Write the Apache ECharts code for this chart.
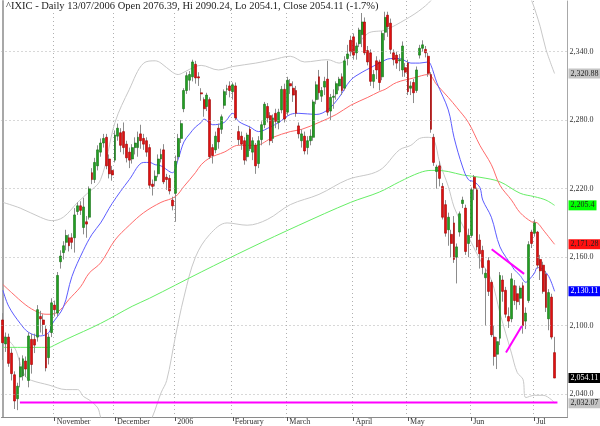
<!DOCTYPE html>
<html><head><meta charset="utf-8">
<script src="https://cdn.jsdelivr.net/npm/echarts@6/dist/echarts.min.js"></script>
<style>html,body{margin:0;padding:0;background:#fff}#c{width:600px;height:426px}</style>
</head><body><div id="c"></div>
<script>
// ---- daily OHLC, ^IXIC, 6 Oct 2005 .. 13 Jul 2006 (index 0 = 6 Oct 2005) ----
const openP = [2105,2084,2090,2076,2057,2036,2055,2056,2069,2052,2088,2088,2090,2108,2105,2097,2072,2094,2118,2111,
2156,2164,2173,2177,2177,2177,2200,2205,2186,2191,2195,2234,2228,2240,2252,2260,2265,2246,2236,2245,
2266,2269,2270,2259,2252,2246,2256,2256,2268,2264,2262,2256,2224,2227,2233,2246,2254,2230,2229,2210,
2216,2248,2264,2290,2306,2315,2318,2329,2318,2304,2298,2292,2298,2256,2254,2273,2272,2293,2307,2310,
2305,2310,2270,2266,2262,2248,2272,2252,2258,2242,2263,2276,2292,2284,2264,2286,2278,2289,2307,2287,
2312,2308,2306,2275,2262,2266,2256,2262,2265,2298,2318,2301,2309,2316,2288,2300,2303,2310,2318,2308,
2334,2350,2353,2339,2347,2355,2366,2341,2339,2314,2332,2331,2318,2357,2372,2365,2339,2337,2332,2324,
2326,2330,2308,2313,2306,2337,2343,2342,2336,2320,2265,2235,2240,2222,2206,2184,2180,2190,2160,2182,
2207,2203,2172,2179,2230,2219,2175,2166,2142,2157,2138,2090,2075,2089,2140,2131,2108,2106,2135,2128,
2124,2135,2104,2122,2182,2181,2182,2158,2153,2145,2106,2125,2076.39];
const highP = [2111,2094,2093,2080,2060,2050,2072,2074,2073,2094,2093,2093,2118,2113,2110,2100,2093,2124,2122,2147,
2166,2174,2184,2180,2181,2203,2208,2209,2212,2196,2222,2238,2247,2258,2264,2268,2268,2250,2240,2271,
2277,2273,2278,2262,2256,2259,2265,2270,2276,2268,2265,2259,2228,2236,2250,2255,2259,2233,2232,2213,
2249,2268,2280,2308,2322,2323,2333,2332,2322,2308,2300,2304,2300,2259,2270,2277,2285,2307,2311,2314,
2313,2313,2275,2270,2265,2269,2275,2265,2260,2266,2279,2296,2295,2287,2285,2290,2290,2310,2312,2318,
2316,2314,2310,2278,2272,2270,2266,2272,2298,2314,2324,2309,2318,2332,2303,2307,2314,2318,2321,2336,
2346,2354,2356,2348,2361,2376,2370,2345,2342,2324,2336,2333,2358,2375,2375,2369,2342,2340,2338,2349,
2330,2333,2314,2316,2327,2346,2350,2345,2339,2322,2268,2241,2244,2225,2210,2199,2184,2196,2172,2200,
2213,2206,2185,2221,2232,2221,2180,2170,2150,2160,2140,2100,2090,2147,2144,2134,2116,2146,2140,2135,
2135,2138,2116,2174,2184,2193,2183,2162,2156,2148,2132,2128,2090.24];
const lowP = [2070,2077,2064,2052,2027,2026,2046,2052,2055,2046,2058,2076,2086,2094,2092,2060,2066,2090,2108,2108,
2150,2158,2166,2165,2167,2164,2197,2197,2180,2177,2193,2224,2225,2236,2248,2256,2237,2229,2227,2243,
2262,2252,2250,2243,2238,2242,2250,2248,2255,2254,2248,2220,2214,2222,2230,2243,2224,2219,2215,2201,
2191,2244,2260,2287,2303,2306,2314,2312,2310,2297,2283,2288,2246,2242,2251,2255,2268,2290,2302,2300,
2298,2280,2258,2254,2241,2244,2253,2245,2233,2238,2258,2273,2278,2258,2260,2273,2272,2286,2278,2284,
2303,2296,2283,2264,2256,2250,2250,2258,2262,2294,2298,2296,2302,2284,2280,2290,2298,2306,2302,2306,
2328,2336,2333,2333,2344,2344,2337,2328,2310,2308,2316,2306,2315,2350,2353,2338,2328,2325,2323,2318,
2318,2302,2302,2295,2304,2334,2340,2335,2318,2269,2240,2220,2222,2193,2178,2170,2160,2155,2137,2178,
2203,2162,2160,2177,2210,2166,2150,2145,2100,2126,2090,2065,2062,2083,2121,2107,2098,2103,2118,2114,
2118,2093,2097,2120,2168,2178,2150,2140,2128,2112,2096,2088,2054.1];
const closeP = [2085,2090,2067,2058,2034,2047,2064,2071,2062,2091,2066,2083,2114,2106,2101,2063,2090,2120,2114,2144,
2161,2170,2179,2170,2173,2197,2205,2201,2204,2189,2220,2228,2243,2254,2260,2264,2240,2233,2232,2267,
2273,2258,2256,2247,2245,2256,2260,2265,2262,2259,2252,2223,2222,2231,2246,2250,2226,2228,2218,2205,
2244,2264,2277,2306,2319,2320,2331,2317,2317,2303,2290,2302,2248,2249,2266,2261,2283,2305,2307.5,2306,
2311,2282,2263,2259,2245,2267,2255,2262,2240,2262,2276,2294,2282,2262,2282,2279,2287,2307,2281,2315,
2310,2302,2286,2268,2268,2253,2262,2266,2296,2311,2304,2306,2314,2287,2300,2301,2312,2316,2306,2332,
2338,2340,2337,2345,2359,2366,2339,2331,2314,2320,2324,2313,2356,2370,2362,2342,2333,2330,2333,2345,
2322,2305,2310,2304,2324,2343,2346,2339,2321,2272,2243,2239,2229,2195,2181,2195,2172,2158,2169,2198,
2210,2165,2179,2219,2220,2169,2163,2151,2146,2130,2092,2073,2086,2144,2130,2110,2104,2141,2122,2121,
2133,2100,2111,2171,2172,2190,2153,2148,2130,2116,2129,2090,2054.11];

// ---- x axis ----
const dayCount = 197;                       // category slots (193 trading days + right margin)
const monthLabels = ['November','December','2006','February','March','April','May','Jun','Jul'];
const monthStart  = [18, 39, 60, 80, 99, 122, 141, 163, 185];

// ---- y grid values ----
const yTicks = [2040, 2100, 2160, 2220, 2280, 2340];

// ---- overlay lines: [day index, value] ----
const blueLine = [[0,2131],[2,2117],[6,2102],[9,2094],[13,2091],[16,2094],[17,2101],[21,2116],[24,2143],[28,2166],[31,2180],[34,2190],[38,2207],[44,2228],[49,2243],[51,2243],[53,2241],[55,2240],[59,2234],[61,2246],[63,2261],[65,2268],[67,2274],[69,2278],[70,2281],[73,2276],[77,2278],[80,2286],[82,2279],[86,2274],[89,2270],[93,2274],[96,2278],[100,2285],[103,2286],[109,2285],[113,2289],[117,2300],[121,2315],[125,2322],[128,2326],[131,2330],[135,2334],[138,2334],[142,2330],[145,2330],[148,2331],[149,2328],[151,2313],[155,2289],[157,2265],[160,2239],[162,2228],[164,2226],[166,2221],[167,2210],[170,2195],[173,2169],[177,2153],[178,2149],[180,2144],[182,2138],[183,2140],[185,2146],[186,2151],[188,2149],[190,2143],[192,2130.11]];
const redLine = [[0,2136],[3,2129],[8,2118],[12,2112],[15,2110],[17,2110],[20,2114],[23,2123],[27,2134],[30,2146],[34,2155],[39,2175],[44,2188],[49,2199],[55,2208],[60,2213],[63,2222],[67,2234],[69,2241],[72,2247],[77,2252],[82,2258],[88,2258],[94,2265],[100,2270],[104,2272],[110,2278],[116,2285],[121,2293],[127,2300],[131,2305],[133,2307],[137,2313],[143,2317],[148,2320],[151,2311],[155,2300],[158,2291],[162,2278],[166,2258],[170,2241],[173,2223],[177,2210],[180,2199],[184,2191],[186,2190],[188,2184],[192,2171.28]];
const greenLine = [[0,2081],[6,2081],[11,2081],[16,2081],[18,2083],[22,2088],[34,2102],[45,2117],[51,2124],[69,2147],[86,2168],[103,2188],[121,2208],[131,2217],[138,2226],[145,2234],[149,2236],[151,2236],[155,2235],[160,2232],[166,2230],[173,2226],[180,2216],[185,2213],[189,2210],[192,2205.4]];
const upperBand = [[0,2208],[6,2203],[13,2195],[17,2192],[21,2195],[26,2208],[29,2215],[34,2228],[39,2278],[44,2307],[49,2330],[53,2332],[55,2330],[59,2322],[61,2320],[63,2322],[67,2327],[69,2328],[75,2324],[80,2327],[88,2330],[94,2333],[100,2336],[105,2331],[113,2333],[117,2330],[122,2341],[127,2356],[133,2359],[140,2368],[146,2378],[150,2388],[155,2410],[165,2430],[175,2420],[182,2395],[184,2385],[187,2362],[189,2342],[192,2320.88]];
const lowerBand = [[0,2092],[4,2081],[6,2067],[8,2055],[10,2052],[16,2048],[22,2044],[26,2044],[28,2038],[30,2035],[33,2028],[34,2020],[37,2005],[43,1992],[48,2000],[52,2020],[55,2041],[57,2052],[60,2090],[63,2125],[67,2160],[72,2180],[78,2190],[85,2188],[92,2193],[100,2206],[110,2215],[120,2228],[131,2236],[138,2254],[142,2258],[145,2264],[148,2265],[150,2263],[152,2243],[155,2222],[157,2204],[159,2193],[163,2173],[166,2158],[170,2140],[173,2111],[177,2076],[179,2059],[181,2053],[182,2037],[185,2039],[188,2039],[191,2035],[192,2032.07]];
const pinkFlat = [[5.9,2032.8],[193,2032.8]];
const pinkDown = [[170.1,2167],[181.4,2145.4]];
const pinkUp   = [[175.1,2076.4],[180.6,2099.8]];

// ---- right-hand value boxes ----
const lastVals  = [2320.88, 2205.4, 2171.28, 2130.11, 2054.11, 2032.07];
const lastTexts = ['2,320.88','2,205.4','2,171.28','2,130.11','2,054.11','2,032.07'];
const titleText = '^IXIC - Daily 13/07/2006 Open 2076.39, Hi 2090.24, Lo 2054.1, Close 2054.11 (-1.7%)';

// ---------------------------------------------------------------
const SERIF = "'Liberation Serif','DejaVu Serif',serif";
const Y_MIN = 2020, Y_MAX = 2384.4;
const cats = []; for (let i = 0; i < dayCount; i++) cats.push(String(i));
const isMonth = (i) => monthStart.indexOf(i) >= 0;
const candleData = openP.map((o, i) => [o, closeP[i], lowP[i], highP[i]]);
const bodyData = openP.map((o, i) => [o, closeP[i], Math.min(o, closeP[i]), Math.max(o, closeP[i])]);
const fmtTick = (v) => { const s = String(v); return s.slice(0, 1) + ',' + s.slice(1) + '.0'; };

const boxStyles = [
  {bg:'#c4c4c4', fg:'#222'}, {bg:'#00ff00', fg:'#222'}, {bg:'#ff1010', fg:'#222'},
  {bg:'#0000ff', fg:'#fff'}, {bg:'#000000', fg:'#fff'}, {bg:'#c4c4c4', fg:'#222'}
];
function boxMark(k) {
  return {
    silent: true, symbol: 'none', animation: false,
    lineStyle: {color: 'rgba(255,255,255,0)', width: 1, type: 'solid'},
    label: {show: true, position: 'end', distance: 1, formatter: lastTexts[k], opacity: 1,
      fontFamily: SERIF, fontSize: 8, color: boxStyles[k].fg, backgroundColor: boxStyles[k].bg,
      padding: [1, 2, 0, 2], lineHeight: 9},
    emphasis: {disabled: true},
    data: [{yAxis: lastVals[k]}]
  };
}
function lineSeries(data, color, width, z, mark) {
  const s = {type: 'line', xAxisIndex: 1, data: data, showSymbol: false, symbol: 'none',
    smooth: 0.35, lineStyle: {color: color, width: width}, z: z, silent: true, clip: true};
  if (mark) s.markLine = mark;
  return s;
}
function frameAxis(pos, w) {
  return {type: 'value', min: Y_MIN, max: Y_MAX, position: pos, show: true,
    axisLine: {show: true, lineStyle: {color: '#a8a8a8', width: w}},
    axisTick: {show: false}, axisLabel: {show: false}, splitLine: {show: false}};
}

const chart = echarts.init(document.getElementById('c'), null, {renderer: 'canvas'});
chart.setOption({
  animation: false,
  backgroundColor: '#fff',
  title: {text: titleText, left: 4, top: 0, padding: [1, 3, 1, 2], backgroundColor: '#fff',
    textStyle: {fontFamily: SERIF, fontSize: 10.5, fontWeight: 'normal', color: '#222'}},
  grid: {left: 1.5, top: 1, width: 566, height: 416, show: false},
  xAxis: [
    {type: 'category', data: cats, boundaryGap: true,
      axisLine: {show: true, lineStyle: {color: '#8a8a8a', width: 1}},
      axisTick: {show: true, alignWithLabel: true, length: 4, interval: (i) => isMonth(i), lineStyle: {color: '#555'}},
      axisLabel: {show: true, interval: (i) => isMonth(i), formatter: (v, i) => monthLabels[monthStart.indexOf(i)] || '',
        align: 'left', padding: [0, 0, 0, 2], margin: 1, fontFamily: SERIF, fontSize: 8, color: '#333'},
      splitLine: {show: true, interval: (i) => isMonth(i), lineStyle: {color: '#b0b0b0', type: [1, 3], width: 1}}},
    {type: 'value', min: -0.5, max: dayCount - 0.5, show: false}
  ],
  yAxis: [frameAxis('left', 2), frameAxis('right', 1)],
  series: [
    {type: 'line', xAxisIndex: 1, data: [[-5, 2100]], showSymbol: false, z: 0, silent: true,
      markLine: {silent: true, symbol: 'none', animation: false,
        lineStyle: {color: '#b0b0b0', type: [1, 3], width: 1},
        label: {show: true, position: 'end', distance: 2, formatter: (p) => fmtTick(p.value),
          fontFamily: SERIF, fontSize: 8, color: '#333'},
        data: yTicks.map((v) => ({yAxis: v}))}},
    lineSeries(upperBand, '#c8c8c8', 1, 1, boxMark(0)),
    lineSeries(lowerBand, '#c8c8c8', 1, 1, boxMark(5)),
    lineSeries(greenLine, '#66ee66', 1, 1, boxMark(1)),
    lineSeries(redLine, '#ff6b6b', 1, 1, boxMark(2)),
    lineSeries(blueLine, '#5c5cff', 1, 1, boxMark(3)),
    {type: 'candlestick', xAxisIndex: 0, data: candleData, barWidth: 1, z: 3, silent: true,
      itemStyle: {color: '#8c8c8c', color0: '#8c8c8c', borderColor: '#8c8c8c', borderColor0: '#8c8c8c', borderWidth: 1},
      markLine: boxMark(4)},
    {type: 'candlestick', xAxisIndex: 0, data: bodyData, barWidth: 2.4, z: 4, silent: true,
      itemStyle: {color: '#22a022', color0: '#e01010', borderColor: '#157015', borderColor0: '#a00000', borderWidth: 0.6}},
    lineSeries(pinkFlat, '#ff00ff', 2, 5),
    lineSeries(pinkDown, '#ff00ff', 2, 5),
    lineSeries(pinkUp, '#ff00ff', 2, 5)
  ]
});
</script>
</body></html>
